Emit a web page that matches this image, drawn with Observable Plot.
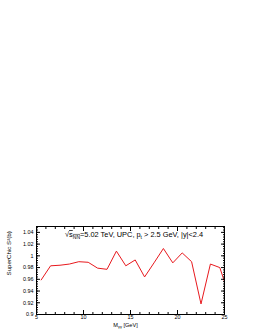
<!DOCTYPE html>
<html><head><meta charset="utf-8">
<script src="https://cdn.jsdelivr.net/npm/d3@7"></script>
<script src="https://cdn.jsdelivr.net/npm/@observablehq/plot@0.6"></script>
<style>body{margin:0;background:#fff} svg{display:block}</style>
</head><body><div id="chart"></div>
<script>
// Invariant mass bin centres (GeV) and SuperChic survival factor S^2(b)
const mass = [5.5, 6.5, 7.5, 8.5, 9.5, 10.5, 11.5, 12.5, 13.5, 14.5, 15.5, 16.5, 17.5, 18.5, 19.5, 20.5, 21.5, 22.5, 23.5, 24.5, 25];
const s2   = [0.959, 0.983, 0.984, 0.986, 0.990, 0.989, 0.979, 0.977, 1.008, 0.983, 0.993, 0.964, 0.988, 1.0125, 0.988, 1.005, 0.990, 0.918, 0.986, 0.980, 0.956];

const xMajor = [5, 10, 15, 20, 25];
const xMinor = [6, 7, 8, 9, 11, 12, 13, 14, 16, 17, 18, 19, 21, 22, 23, 24];
const yMajor = [0.9, 0.92, 0.94, 0.96, 0.98, 1.0, 1.02, 1.04];
const yMinor = d3.range(0.904, 1.0505, 0.004);

const titleText = "TITLE";
const xTitle = "XTITLE";
const yTitle = "SuperChic S²(b)";

const data = mass.map((m, i) => ({m, s: s2[i]}));
const blank = () => "";
const FONT = "'Liberation Sans', Arial, Helvetica, sans-serif";

const plot = Plot.plot({
  width: 255, height: 330,
  marginTop: 226, marginLeft: 36, marginRight: 31, marginBottom: 16,
  x: {domain: [5, 25]},
  y: {domain: [0.9, 1.05]},
  style: {fontFamily: FONT, fontSize: "5.4px", color: "#000", background: "#fff"},
  marks: [
    Plot.line(data, {x: "m", y: "s", stroke: "#e8191e", strokeWidth: 1}),
    Plot.frame({stroke: "#000", strokeWidth: 1}),
    Plot.axisX(xMajor, {anchor: "bottom", tickSize: -4, tickPadding: 5, tickFormat: d => String(d), label: null}),
    Plot.axisX(xMinor, {anchor: "bottom", tickSize: -2, tickFormat: blank, label: null}),
    Plot.axisX(xMajor, {anchor: "top", tickSize: -4, tickFormat: blank, label: null}),
    Plot.axisX(xMinor, {anchor: "top", tickSize: -2, tickFormat: blank, label: null}),
    Plot.axisY(yMajor, {anchor: "left", tickSize: -4, tickPadding: 7, tickFormat: d => String(+d.toFixed(2)), label: null}),
    Plot.axisY(yMinor, {anchor: "left", tickSize: -2, tickFormat: blank, label: null}),
    Plot.axisY(yMajor, {anchor: "right", tickSize: -4, tickFormat: blank, label: null}),
    Plot.axisY(yMinor, {anchor: "right", tickSize: -2, tickFormat: blank, label: null}),
    Plot.text([titleText], {text: d => d, frameAnchor: "top-left", dx: 28.5, dy: 5.5, textAnchor: "start", fontSize: 7.4}),
    Plot.text([xTitle], {text: d => d, frameAnchor: "bottom", dx: -5, dy: 12, fontSize: 5.6}),
    Plot.text([yTitle], {text: d => d, frameAnchor: "left", dx: -27, dy: 5, rotate: -90, fontSize: 6.2})
  ]
});
document.getElementById("chart").appendChild(plot);

// rich text (sub/superscripts) as real SVG tspans
function rich(placeholder, parts) {
  plot.querySelectorAll("text").forEach(t => {
    if (t.textContent !== placeholder) return;
    t.textContent = "";
    const ns = "http://www.w3.org/2000/svg";
    parts.forEach(p => {
      const ts = document.createElementNS(ns, "tspan");
      ts.textContent = p.t;
      if (p.dy) ts.setAttribute("dy", p.dy);
      if (p.fs) ts.setAttribute("font-size", p.fs);
      if (p.deco) ts.setAttribute("text-decoration", p.deco);
      t.appendChild(ts);
    });
  });
}
rich(titleText, [
  {t: "√"}, {t: "s", deco: "overline"}, {t: "NN", dy: 1.7, fs: 5, deco: "overline"},
  {t: "=5.02 TeV, UPC, p", dy: -1.7}, {t: "t", dy: 1.7, fs: 5},
  {t: " > 2.5 GeV, |y|<2.4", dy: -1.7}
]);
rich(xTitle, [{t: "M"}, {t: "γγ", dy: 1.5, fs: 4}, {t: " [GeV]", dy: -1.5}]);
</script>
</body></html>
